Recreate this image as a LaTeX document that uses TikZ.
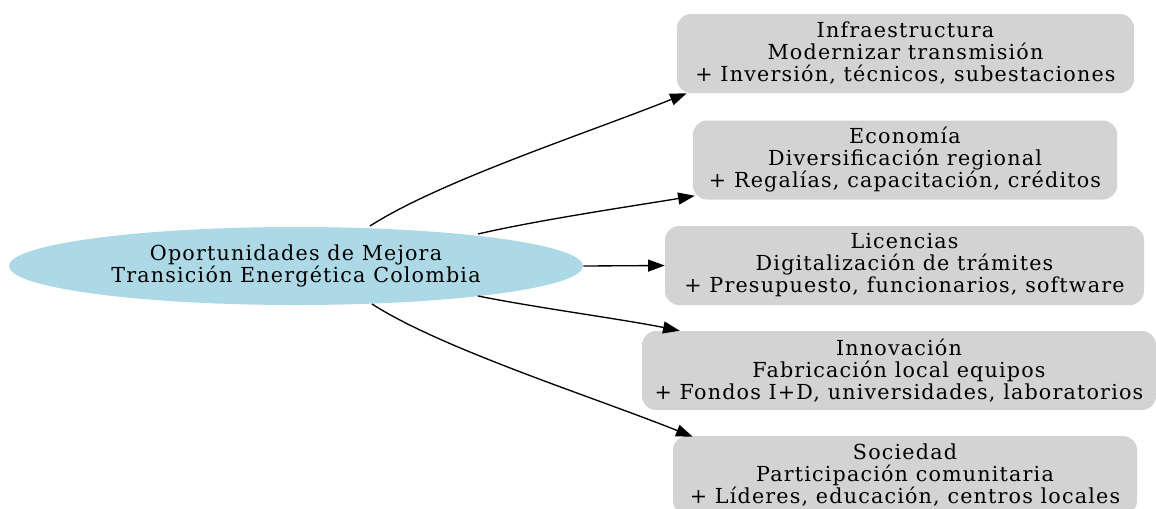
\documentclass[tikz,border=0pt]{standalone}
\usepackage{fontspec}
\setmainfont{DejaVu Serif}[LetterSpace=5.7]
\usetikzlibrary{arrows.meta,calc,shapes.geometric}
\definecolor{rootblue}{HTML}{ADD8E6}
\definecolor{boxgray}{HTML}{D3D3D3}
\begin{document}
\begin{tikzpicture}[x=0.75pt,y=-0.75pt,
  every node/.style={font=\fontsize{15.5}{16.5}\selectfont, align=center, inner sep=0pt},
  rootnode/.style={ellipse, fill=rootblue, minimum width={574*0.75pt}, minimum height={78*0.75pt}},
  itembox/.style={rectangle, fill=boxgray, rounded corners={14*0.75pt}, minimum height={79*0.75pt}},
  link/.style={line width=1pt, -{Triangle[length=12.5pt,width=9pt]}}
]
\useasboundingbox (0,0) rectangle (1156,508);
\node[rootnode] (root) at (296,266) {Oportunidades de Mejora\\Transición Energética Colombia};
\node[itembox, minimum width={457*0.75pt}] (infra) at (905.5,53.5) {Infraestructura\\Modernizar transmisión\\+ Inversión, técnicos, subestaciones};
\node[itembox, minimum width={424*0.75pt}] (econ) at (905,160) {Economía\\Diversificación regional\\+ Regalías, capacitación, créditos};
\node[itembox, minimum width={479*0.75pt}] (lic) at (904.5,265.5) {Licencias\\Digitalización de trámites\\+ Presupuesto, funcionarios, software};
\node[itembox, minimum width={514*0.75pt}] (innov) at (899,370.5) {Innovación\\Fabricación local equipos\\+ Fondos I+D, universidades, laboratorios};
\node[itembox, minimum width={464*0.75pt}] (soc) at (905,475.5) {Sociedad\\Participación comunitaria\\+ Líderes, educación, centros locales};

\draw[link] ($(root.center)+(74,-40)$) .. controls +(70,-45) and +(-100,40) .. ($(infra.south west)+(10,0)$);
\draw[link] ($(root.center)+(182,-32)$) .. controls +(60,-14) and +(-60,10) .. ($(econ.south west)+(2,-4)$);
\draw[link] (root.east) -- (lic.west);
\draw[link] ($(root.center)+(182,30)$) .. controls +(60,12) and +(-60,-12) .. ($(innov.north west)+(38,0)$);
\draw[link] ($(root.center)+(76,38)$) .. controls +(70,45) and +(-100,-40) .. ($(soc.north west)+(20,1)$);
\end{tikzpicture}
\end{document}
